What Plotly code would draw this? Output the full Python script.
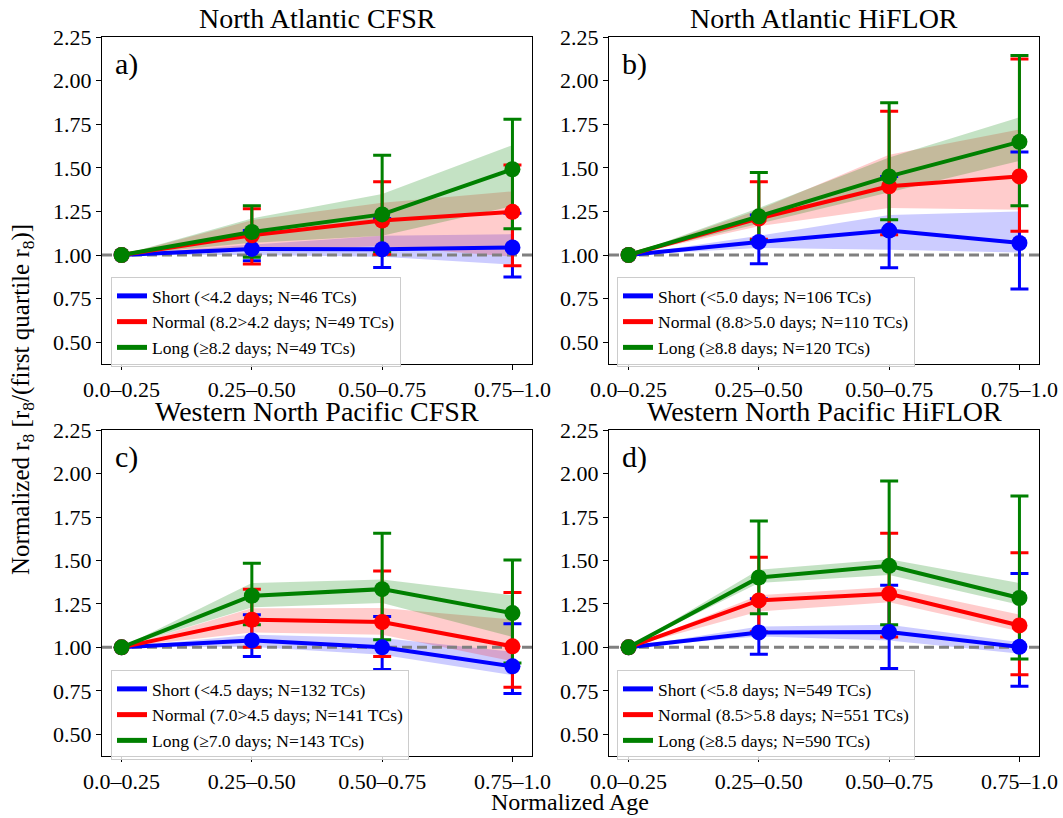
import plotly.graph_objects as go

# ---------------- data ----------------
CATS = ["0.0–0.25", "0.25–0.50", "0.50–0.75", "0.75–1.0"]
XPOS = [0, 1, 2, 3]
YTICKS = [0.50, 0.75, 1.00, 1.25, 1.50, 1.75, 2.00, 2.25]

TITLES = ["North Atlantic CFSR", "North Atlantic HiFLOR",
          "Western North Pacific CFSR", "Western North Pacific HiFLOR"]
LABELS = ["a)", "b)", "c)", "d)"]

# legend names
a_names = ["Short (&lt;4.2 days; N=46 TCs)", "Normal (8.2&gt;4.2 days; N=49 TCs)", "Long (≥8.2 days; N=49 TCs)"]
b_names = ["Short (&lt;5.0 days; N=106 TCs)", "Normal (8.8&gt;5.0 days; N=110 TCs)", "Long (≥8.8 days; N=120 TCs)"]
c_names = ["Short (&lt;4.5 days; N=132 TCs)", "Normal (7.0&gt;4.5 days; N=141 TCs)", "Long (≥7.0 days; N=143 TCs)"]
d_names = ["Short (&lt;5.8 days; N=549 TCs)", "Normal (8.5&gt;5.8 days; N=551 TCs)", "Long (≥8.5 days; N=590 TCs)"]

# panel a: North Atlantic CFSR
a_short_mean = [1.0, 1.035, 1.033, 1.043]
a_short_err_hi = [None, 1.14, 1.21, 1.24]
a_short_err_lo = [None, 0.967, 0.928, 0.874]
a_short_band_hi = [1.0, 1.06, 1.11, 1.12]
a_short_band_lo = [1.0, 1.00, 0.99, 0.945]
a_normal_mean = [1.0, 1.113, 1.198, 1.248]
a_normal_err_hi = [None, 1.266, 1.421, 1.517]
a_normal_err_lo = [None, 0.948, 1.005, 0.939]
a_normal_band_hi = [1.0, 1.20, 1.30, 1.365]
a_normal_band_lo = [1.0, 1.03, 1.05, 0.99]
a_long_mean = [1.0, 1.132, 1.233, 1.492]
a_long_err_hi = [None, 1.283, 1.572, 1.779]
a_long_err_lo = [None, 0.987, 1.02, 1.151]
a_long_band_hi = [1.0, 1.21, 1.35, 1.63]
a_long_band_lo = [1.0, 1.07, 1.11, 1.28]

# panel b: North Atlantic HiFLOR
b_short_mean = [1.0, 1.075, 1.14, 1.069]
b_short_err_hi = [None, 1.23, 1.45, 1.591]
b_short_err_lo = [None, 0.95, 0.927, 0.805]
b_short_band_hi = [1.0, 1.11, 1.23, 1.25]
b_short_band_lo = [1.0, 1.04, 1.03, 1.015]
b_normal_mean = [1.0, 1.21, 1.394, 1.451]
b_normal_err_hi = [None, 1.421, 1.824, 2.125]
b_normal_err_lo = [None, 1.09, 1.117, 1.136]
b_normal_band_hi = [1.0, 1.26, 1.575, 1.72]
b_normal_band_lo = [1.0, 1.165, 1.27, 1.26]
b_long_mean = [1.0, 1.222, 1.451, 1.649]
b_long_err_hi = [None, 1.474, 1.874, 2.144]
b_long_err_lo = [None, 1.084, 1.203, 1.283]
b_long_band_hi = [1.0, 1.27, 1.56, 1.79]
b_long_band_lo = [1.0, 1.18, 1.36, 1.54]

# panel c: Western North Pacific CFSR
c_short_mean = [1.0, 1.04, 1.0, 0.891]
c_short_err_hi = [None, 1.188, 1.178, 1.136]
c_short_err_lo = [None, 0.948, 0.872, 0.734]
c_short_band_hi = [1.0, 1.073, 1.054, 0.975]
c_short_band_lo = [1.0, 1.003, 0.958, 0.84]
c_normal_mean = [1.0, 1.159, 1.146, 1.006]
c_normal_err_hi = [None, 1.335, 1.44, 1.316]
c_normal_err_lo = [None, 1.0, 0.948, 0.77]
c_normal_band_hi = [1.0, 1.225, 1.226, 1.16]
c_normal_band_lo = [1.0, 1.086, 1.073, 0.92]
c_long_mean = [1.0, 1.297, 1.335, 1.197]
c_long_err_hi = [None, 1.484, 1.657, 1.503]
c_long_err_lo = [None, 1.13, 1.044, 0.91]
c_long_band_hi = [1.0, 1.37, 1.39, 1.30]
c_long_band_lo = [1.0, 1.23, 1.255, 1.06]

# panel d: Western North Pacific HiFLOR
d_short_mean = [1.0, 1.086, 1.088, 1.003]
d_short_err_hi = [None, 1.28, 1.358, 1.425]
d_short_err_lo = [None, 0.96, 0.878, 0.776]
d_short_band_hi = [1.0, 1.12, 1.13, 1.029]
d_short_band_lo = [1.0, 1.063, 1.04, 0.964]
d_normal_mean = [1.0, 1.27, 1.308, 1.126]
d_normal_err_hi = [None, 1.519, 1.656, 1.544]
d_normal_err_lo = [None, 1.09, 1.06, 0.843]
d_normal_band_hi = [1.0, 1.30, 1.347, 1.188]
d_normal_band_lo = [1.0, 1.207, 1.259, 1.092]
d_long_mean = [1.0, 1.402, 1.469, 1.284]
d_long_err_hi = [None, 1.727, 1.957, 1.871]
d_long_err_lo = [None, 1.193, 1.13, 0.933]
d_long_band_hi = [1.0, 1.446, 1.507, 1.37]
d_long_band_lo = [1.0, 1.37, 1.417, 1.245]

REF_LEVEL = 1.0
XRANGE = [-0.15, 3.15]
YRANGE = [0.375, 2.2505]

# ---------------- styling ----------------
W, H = 1063, 818
FONT = "Liberation Serif"
LINE_COLORS = ["#0000ff", "#ff0000", "#008000"]
BAND_COLORS = ["rgba(0,0,255,0.2)", "rgba(255,0,0,0.2)", "rgba(0,128,0,0.23)"]
# axes boxes in pixels (left, right, top, bottom)
BOXES = [(102, 532, 37, 364), (609, 1039, 37, 364), (102, 532, 430, 756), (609, 1039, 430, 756)]
LEGEND_POS = [(111, 277), (617, 277), (111, 670), (617, 670)]

panels = []
for p, names in zip("abcd", [a_names, b_names, c_names, d_names]):
    g = globals()
    series = []
    for s in ["short", "normal", "long"]:
        series.append(dict(
            mean=g[f"{p}_{s}_mean"], ehi=g[f"{p}_{s}_err_hi"], elo=g[f"{p}_{s}_err_lo"],
            bhi=g[f"{p}_{s}_band_hi"], blo=g[f"{p}_{s}_band_lo"]))
    panels.append(dict(series=series, names=names))

fig = go.Figure()
layout = {}
annotations = []

for i, (pan, box) in enumerate(zip(panels, BOXES)):
    n = i + 1
    sfx = "" if n == 1 else str(n)
    xa, ya = "x" + sfx, "y" + sfx
    leg = "legend" + sfx
    L, R, T, B = box

    # bands
    for k, s in enumerate(pan["series"]):
        fig.add_trace(go.Scatter(
            x=XPOS + XPOS[::-1], y=s["bhi"] + s["blo"][::-1],
            fill="toself", fillcolor=BAND_COLORS[k], line=dict(width=0),
            mode="lines", hoverinfo="skip", showlegend=False, xaxis=xa, yaxis=ya))
    # reference dashed line
    fig.add_trace(go.Scatter(
        x=XRANGE, y=[REF_LEVEL, REF_LEVEL], mode="lines",
        line=dict(color="#808080", width=3, dash="10px,5px"),
        hoverinfo="skip", showlegend=False, xaxis=xa, yaxis=ya))
    # error bars
    for k, s in enumerate(pan["series"]):
        idx = [j for j in range(len(XPOS)) if s["ehi"][j] is not None]
        fig.add_trace(go.Scatter(
            x=[XPOS[j] for j in idx], y=[s["mean"][j] for j in idx],
            mode="markers", marker=dict(size=2, opacity=0),
            error_y=dict(type="data", symmetric=False,
                         array=[s["ehi"][j] - s["mean"][j] for j in idx],
                         arrayminus=[s["mean"][j] - s["elo"][j] for j in idx],
                         color=LINE_COLORS[k], thickness=3, width=9),
            hoverinfo="skip", showlegend=False, xaxis=xa, yaxis=ya))
    # lines + markers
    for k, s in enumerate(pan["series"]):
        fig.add_trace(go.Scatter(
            x=XPOS, y=s["mean"], mode="lines+markers",
            line=dict(color=LINE_COLORS[k], width=4),
            marker=dict(color=LINE_COLORS[k], size=16),
            showlegend=False, xaxis=xa, yaxis=ya))
    # legend entries (line only)
    for k, s in enumerate(pan["series"]):
        fig.add_trace(go.Scatter(
            x=[None], y=[None], mode="lines", name=pan["names"][k],
            line=dict(color=LINE_COLORS[k], width=5),
            showlegend=True, legend=leg, xaxis=xa, yaxis=ya))

    axcommon = dict(showline=True, linecolor="black", linewidth=1.3, mirror=True,
                    ticks="outside", ticklen=5, tickwidth=1.3, tickcolor="black",
                    showgrid=False, zeroline=False, automargin=False,
                    tickfont=dict(family=FONT, size=22, color="black"))
    layout["xaxis" + sfx] = dict(domain=[L / W, R / W], range=XRANGE, anchor=ya,
                                 tickmode="array", tickvals=XPOS, ticktext=CATS, **axcommon)
    layout["yaxis" + sfx] = dict(domain=[1 - B / H, 1 - T / H], range=YRANGE, anchor=xa,
                                 tickmode="array", tickvals=YTICKS,
                                 ticktext=[f"{v:.2f}" for v in YTICKS], **axcommon)
    lx, ly = LEGEND_POS[i]
    layout[leg] = dict(x=lx / W, y=1 - ly / H, xanchor="left", yanchor="top",
                       bgcolor="rgba(255,255,255,0.8)", bordercolor="#cccccc", borderwidth=1,
                       font=dict(family=FONT, size=17.5, color="black"), tracegroupgap=0)
    annotations.append(dict(text=TITLES[i], x=(L + R) / 2 / W, y=1 - T / H, xref="paper", yref="paper",
                            xanchor="center", yanchor="bottom", yshift=1, showarrow=False,
                            font=dict(family=FONT, size=28, color="black")))
    annotations.append(dict(text=LABELS[i], x=(L + 11) / W, y=1 - (T + 27) / H, xref="paper", yref="paper",
                            xanchor="left", yanchor="middle", showarrow=False,
                            font=dict(family=FONT, size=30, color="black")))

annotations.append(dict(text="Normalized Age", x=570 / W, y=1 - 802 / H, xref="paper", yref="paper",
                        xanchor="center", yanchor="middle", showarrow=False,
                        font=dict(family=FONT, size=24, color="black")))
annotations.append(dict(text="Normalized r<sub>8</sub> [r<sub>8</sub>/(first quartile r<sub>8</sub>)]",
                        x=22 / W, y=1 - 400 / H, xref="paper", yref="paper", textangle=-90,
                        xanchor="center", yanchor="middle", showarrow=False,
                        font=dict(family=FONT, size=25, color="black")))

fig.update_layout(width=W, height=H, margin=dict(l=0, r=0, t=0, b=0, autoexpand=False),
                  paper_bgcolor="white", plot_bgcolor="white",
                  annotations=annotations, **layout)

fig.write_html("out.html")
